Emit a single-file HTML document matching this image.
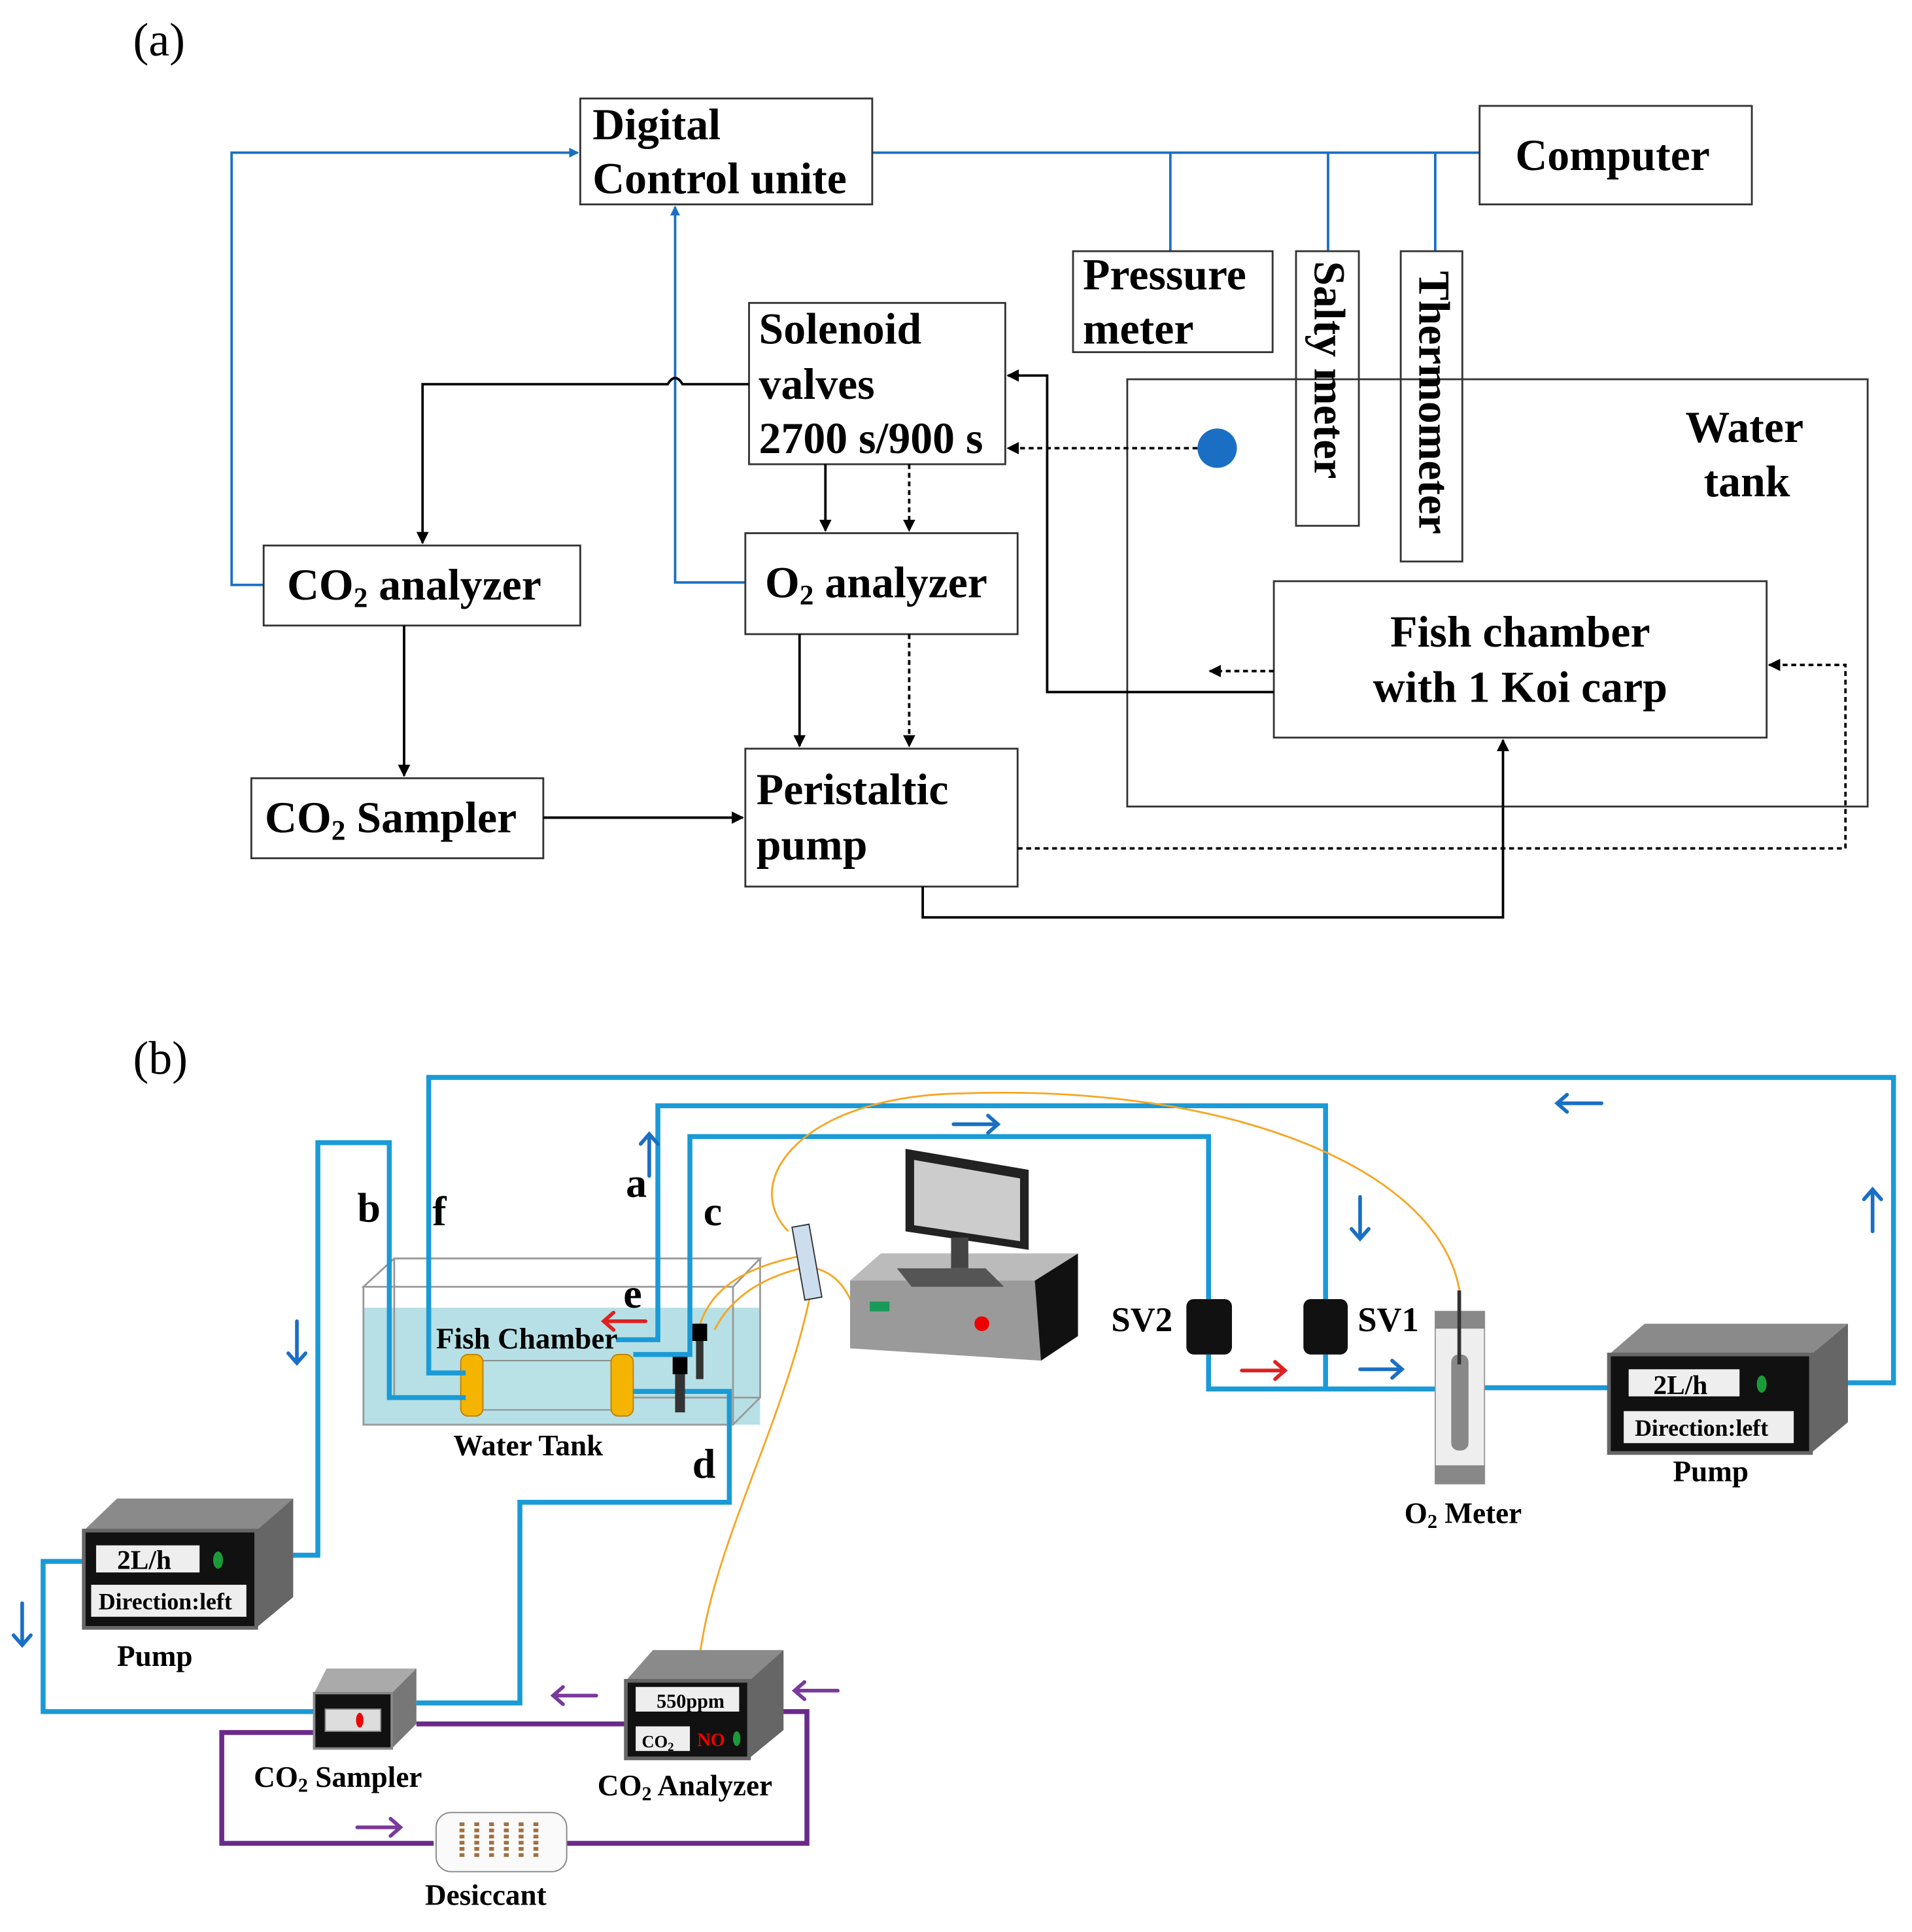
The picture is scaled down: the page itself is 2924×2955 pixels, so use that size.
<!DOCTYPE html>
<html><head><meta charset="utf-8"><style>
html,body{margin:0;padding:0;background:#fff;}
svg{display:block;}
text{font-family:"Liberation Serif",serif;font-weight:bold;fill:#000;}
</style></head><body>
<svg width="2924" height="2955" viewBox="0 0 1552 1569" preserveAspectRatio="none" xmlns="http://www.w3.org/2000/svg">
<defs>
<marker id="ab" markerWidth="10" markerHeight="10" refX="9" refY="5" orient="auto" markerUnits="userSpaceOnUse"><path d="M0,0 L10,5 L0,10 z" fill="#000"/></marker>
<marker id="abl" markerWidth="8" markerHeight="8" refX="7" refY="4" orient="auto" markerUnits="userSpaceOnUse"><path d="M0,0 L8,4 L0,8 z" fill="#1a6fc4"/></marker>
</defs>
<text x="108" y="45" font-size="38" style="font-weight:normal">(a)</text>
<g fill="none" stroke="#1a6fc4" stroke-width="2">
<path d="M214,475 H188 V124 H469" marker-end="url(#abl)"/>
<path d="M708,124 H1201"/>
<path d="M950,124 V204 M1078,124 V204 M1165,124 V204"/>
<path d="M605,473 H548 V168" marker-end="url(#abl)"/>
</g>
<g fill="none" stroke="#333" stroke-width="1.5">
<rect x="471" y="80" width="237" height="86"/>
<rect x="1201" y="86" width="221" height="80"/>
<rect x="871" y="204" width="162" height="82"/>
<rect x="1052" y="204" width="51" height="223"/>
<rect x="1137" y="204" width="50" height="252"/>
<rect x="915" y="308" width="601" height="347"/>
<rect x="608" y="246" width="208" height="131"/>
<rect x="214" y="443" width="257" height="65"/>
<rect x="605" y="433" width="221" height="82"/>
<rect x="204" y="632" width="237" height="65"/>
<rect x="605" y="608" width="221" height="112"/>
</g>
<rect x="1034" y="472" width="400" height="127" fill="#fff" stroke="#333" stroke-width="1.5"/>
<circle cx="988" cy="364" r="16" fill="#1a6fc4"/>
<g fill="none" stroke="#000" stroke-width="2">
<path d="M608,312 H554 Q548,302 542,312 H343 V441" marker-end="url(#ab)"/>
<path d="M670,377 V431" marker-end="url(#ab)"/>
<path d="M1034,562 H850 V305 H818" marker-end="url(#ab)"/>
<path d="M328,508 V630" marker-end="url(#ab)"/>
<path d="M649,515 V606" marker-end="url(#ab)"/>
<path d="M441,664 H603" marker-end="url(#ab)"/>
<path d="M749,720 V745 H1220 V601" marker-end="url(#ab)"/>
</g>
<g fill="none" stroke="#000" stroke-width="2" stroke-dasharray="4,3">
<path d="M738,377 V431" marker-end="url(#ab)"/>
<path d="M972,364 H818" marker-end="url(#ab)"/>
<path d="M1034,545 H982" marker-end="url(#ab)"/>
<path d="M738,515 V606" marker-end="url(#ab)"/>
<path d="M826,689 H1498 V540 H1436" marker-end="url(#ab)"/>
</g>
<g font-size="36">
<text x="481" y="113">Digital</text>
<text x="481" y="157">Control unite</text>
<text x="1230" y="138">Computer</text>
<text x="879" y="235">Pressure</text>
<text x="879" y="279">meter</text>
<text x="1368" y="359">Water</text>
<text x="1383" y="403">tank</text>
<text x="616" y="279">Solenoid</text>
<text x="616" y="324">valves</text>
<text x="616" y="368">2700 s/900 s</text>
<text x="233" y="487">CO<tspan font-size="23" dy="6">2</tspan><tspan dy="-6"> analyzer</tspan></text>
<text x="621" y="485">O<tspan font-size="23" dy="6">2</tspan><tspan dy="-6"> analyzer</tspan></text>
<text x="1234" y="525" text-anchor="middle">Fish chamber</text>
<text x="1234" y="570" text-anchor="middle">with 1 Koi carp</text>
<text x="215" y="676">CO<tspan font-size="23" dy="6">2</tspan><tspan dy="-6"> Sampler</tspan></text>
<text x="614" y="653">Peristaltic</text>
<text x="614" y="698">pump</text>
<text transform="translate(1067,212) rotate(90)">Salty meter</text>
<text transform="translate(1152,220) rotate(90)">Thermometer</text>
</g>
<text x="108" y="872" font-size="38" style="font-weight:normal">(b)</text>
<polygon points="295,1062 617,1062 617,1157 295,1157" fill="#a9dbe0" opacity="0.85"/>
<polygon points="295,1045 320,1022 617,1022 595,1045" fill="none" stroke="#999" stroke-width="1.5"/>
<path d="M295,1045 V1157 H595 V1045 M595,1157 L617,1135 V1022 M320,1022 V1135 H617" fill="none" stroke="#999" stroke-width="1.5"/>
<rect x="378" y="1105" width="128" height="40" fill="#b8e2e6" stroke="#888"/>
<rect x="374" y="1100" width="18" height="50" rx="6" fill="#f5b400" stroke="#c08000"/>
<rect x="496" y="1100" width="18" height="50" rx="6" fill="#f5b400" stroke="#c08000"/>
<g fill="none" stroke="#1a9ad6" stroke-width="4">
<path d="M378,1115 H348 V875 H1537 V1123 H1500"/>
<path d="M238,1263 H258 V928 H316 V1135 H378"/>
<path d="M500,1088 H534 V898 H1076 V1055"/>
<path d="M514,1100 H560 V923 H981 V1055"/>
<path d="M514,1130 H592 V1220 H422 V1383 H338"/>
<path d="M68,1268 H35 V1390 H255"/>
<path d="M981,1100 V1128 H1170 M1076,1100 V1128 M1205,1127 H1306"/>
</g>
<g fill="none" stroke="#6a2a8a" stroke-width="4">
<path d="M338,1400 H508 M628,1390 H655 V1497 H460 M352,1497 H180 V1407 H255"/>
</g>
<g fill="none" stroke="#f5a623" stroke-width="1.5">
<path d="M640,1000 C600,960 650,890 780,888 C1000,880 1170,950 1185,1050"/>
<path d="M650,1020 C600,1030 570,1050 565,1090"/>
<path d="M650,1030 C610,1040 590,1060 580,1080"/>
<path d="M660,1040 C640,1150 580,1250 568,1345"/>
<path d="M662,1030 C700,1040 690,1090 710,1065"/>
</g>
<rect x="648" y="995" width="14" height="60" fill="#cde" stroke="#333" transform="rotate(-10 655 1025)"/>
<rect x="548" y="1102" width="8" height="45" fill="#333"/><rect x="546" y="1102" width="12" height="14" fill="#000"/>
<rect x="565" y="1075" width="6" height="45" fill="#333"/><rect x="562" y="1075" width="12" height="14" fill="#000"/>
<polygon points="690,1040 715,1018 875,1018 875,1085 845,1105 690,1095" fill="#9a9a9a"/>
<polygon points="840,1040 875,1018 875,1085 845,1105" fill="#111"/>
<polygon points="715,1018 875,1018 840,1040 690,1040" fill="#bbb"/>
<polygon points="735,933 835,950 835,1015 735,1000" fill="#222"/>
<polygon points="742,942 828,957 828,1008 742,995" fill="#ccc"/>
<rect x="772" y="1005" width="14" height="25" fill="#444"/>
<polygon points="728,1030 800,1030 815,1045 740,1045" fill="#555"/>
<rect x="706" y="1057" width="16" height="8" fill="#1a9a5a"/>
<circle cx="797" cy="1075" r="6" fill="#e00"/>
<rect x="963" y="1055" width="37" height="45" rx="6" fill="#111"/>
<rect x="1058" y="1055" width="36" height="45" rx="6" fill="#111"/>
<rect x="1165" y="1065" width="40" height="140" fill="#eee" stroke="#999"/>
<rect x="1165" y="1065" width="40" height="14" fill="#888"/>
<rect x="1165" y="1190" width="40" height="15" fill="#888"/>
<rect x="1178" y="1100" width="14" height="78" rx="6" fill="#888"/>
<rect x="1183" y="1048" width="3" height="60" fill="#333"/>
<g>
<polygon points="68,1243 95,1217 238,1217 208,1243" fill="#8a8a8a"/>
<polygon points="208,1243 238,1217 238,1297 208,1322" fill="#666"/>
<rect x="68" y="1243" width="140" height="79" fill="#111" stroke="#666" stroke-width="3"/>
<rect x="78" y="1255" width="84" height="22" fill="#eee"/>
<ellipse cx="177" cy="1267" rx="4" ry="7" fill="#1b9a3a"/>
<rect x="74" y="1287" width="126" height="26" fill="#eee"/>
</g>
<g>
<polygon points="1306,1100 1335,1075 1500,1075 1470,1100" fill="#8a8a8a"/>
<polygon points="1470,1100 1500,1075 1500,1155 1470,1180" fill="#666"/>
<rect x="1306" y="1100" width="164" height="80" fill="#111" stroke="#666" stroke-width="3"/>
<rect x="1322" y="1112" width="90" height="22" fill="#eee"/>
<ellipse cx="1430" cy="1124" rx="4" ry="7" fill="#1b9a3a"/>
<rect x="1318" y="1146" width="138" height="26" fill="#eee"/>
</g>
<polygon points="508,1365 530,1340 636,1340 608,1365" fill="#8a8a8a"/>
<polygon points="608,1365 636,1340 636,1405 608,1428" fill="#666"/>
<rect x="508" y="1365" width="100" height="63" fill="#111" stroke="#666" stroke-width="3"/>
<rect x="516" y="1370" width="84" height="20" fill="#eee"/>
<rect x="516" y="1402" width="44" height="20" fill="#eee"/>
<ellipse cx="598" cy="1412" rx="3" ry="6" fill="#1b9a3a"/>
<polygon points="255,1375 265,1355 338,1355 318,1375" fill="#aaa"/>
<polygon points="318,1375 338,1355 338,1400 318,1420" fill="#777"/>
<rect x="255" y="1375" width="63" height="45" fill="#111" stroke="#888" stroke-width="2"/>
<rect x="264" y="1388" width="45" height="18" fill="#ddd" stroke="#888"/>
<ellipse cx="292" cy="1397" rx="3" ry="6" fill="#e00"/>
<rect x="354" y="1472" width="106" height="48" rx="12" fill="#fafafa" stroke="#888"/>
<g stroke="#a07040" stroke-width="4" stroke-dasharray="3,2"><path d="M375,1480 V1510 M387,1480 V1510 M399,1480 V1510 M411,1480 V1510 M423,1480 V1510 M435,1480 V1510"/></g>
<g fill="none" stroke-width="3" stroke-linecap="round">
<g stroke="#1a6fc4">
<path d="M1300,896 H1264 M1272,889 L1264,896 L1272,903"/>
<path d="M774,913 H810 M802,906 L810,913 L802,920"/>
<path d="M1104,972 V1006 M1097,998 L1104,1006 L1111,998"/>
<path d="M1520,1000 V966 M1513,974 L1520,966 L1527,974"/>
<path d="M527,955 V921 M520,929 L527,921 L534,929"/>
<path d="M241,1073 V1107 M234,1099 L241,1107 L248,1099"/>
<path d="M18,1302 V1336 M11,1328 L18,1336 L25,1328"/>
<path d="M1104,1112 H1138 M1130,1105 L1138,1112 L1130,1119"/>
</g>
<g stroke="#e02020">
<path d="M1008,1113 H1043 M1035,1106 L1043,1113 L1035,1120"/>
<path d="M524,1073 H490 M498,1066 L490,1073 L498,1080"/>
</g>
<g stroke="#7a3a9a">
<path d="M484,1377 H449 M457,1370 L449,1377 L457,1384"/>
<path d="M680,1373 H645 M653,1366 L645,1373 L653,1380"/>
<path d="M290,1484 H325 M317,1477 L325,1484 L317,1491"/>
</g>
</g>
<g font-size="24">
<text x="290" y="992" font-size="34">b</text>
<text x="351" y="995" font-size="34">f</text>
<text x="508" y="972" font-size="34">a</text>
<text x="571" y="995" font-size="34">c</text>
<text x="506" y="1062" font-size="34">e</text>
<text x="562" y="1200" font-size="34">d</text>
<text x="354" y="1095">Fish Chamber</text>
<text x="368" y="1182">Water Tank</text>
<text x="902" y="1081" font-size="28">SV2</text>
<text x="1102" y="1081" font-size="28">SV1</text>
<text x="1140" y="1237">O<tspan font-size="16" dy="4">2</tspan><tspan dy="-4"> Meter</tspan></text>
<text x="1358" y="1203">Pump</text>
<text x="95" y="1353">Pump</text>
<text x="206" y="1451">CO<tspan font-size="16" dy="4">2</tspan><tspan dy="-4"> Sampler</tspan></text>
<text x="485" y="1458">CO<tspan font-size="16" dy="4">2</tspan><tspan dy="-4"> Analyzer</tspan></text>
<text x="345" y="1547">Desiccant</text>
<text x="95" y="1274" font-size="22">2L/h</text>
<text x="80" y="1307" font-size="19">Direction:left</text>
<text x="1342" y="1132" font-size="22">2L/h</text>
<text x="1327" y="1166" font-size="19">Direction:left</text>
<text x="533" y="1387" font-size="16">550ppm</text>
<text x="521" y="1419" font-size="14">CO<tspan font-size="10" dy="3">2</tspan></text>
<text x="566" y="1418" font-size="15" style="fill:#e00">NO</text>
</g>
</svg>
</body></html>
